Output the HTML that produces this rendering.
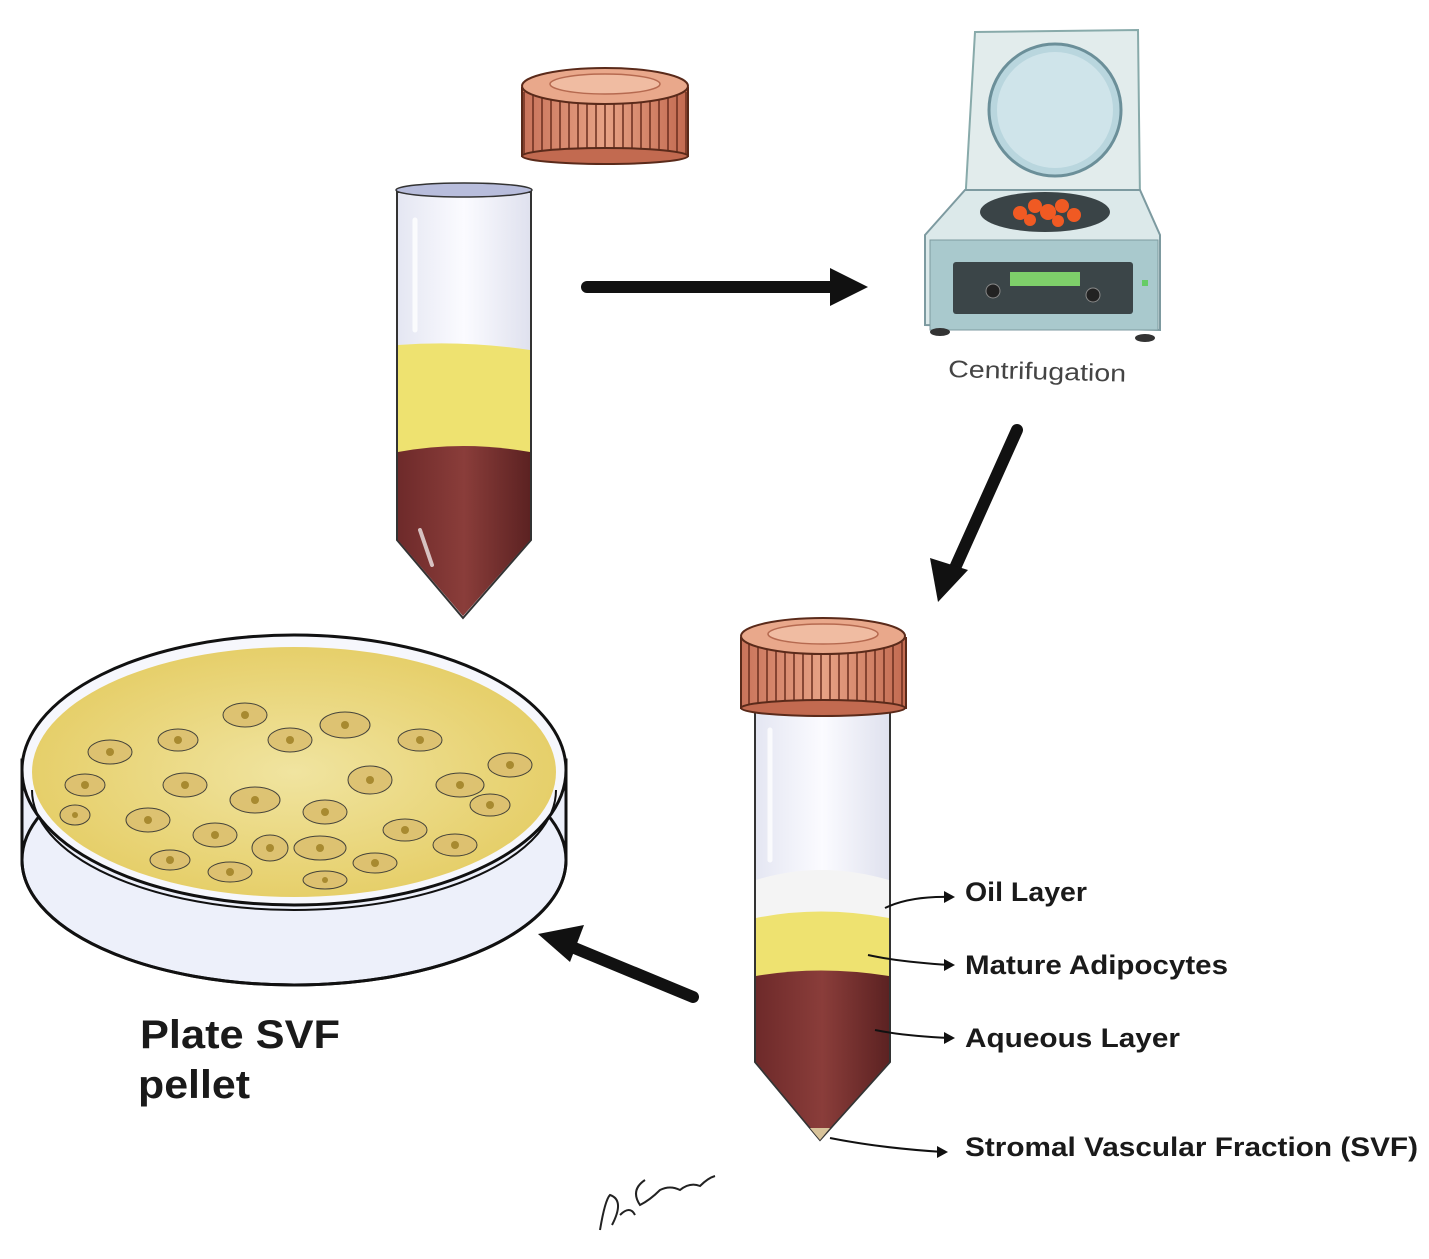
<!DOCTYPE html>
<html><head><meta charset="utf-8"><style>
html,body{margin:0;padding:0;background:#fff;}
svg{display:block;}
text{font-family:"Liberation Sans",sans-serif;}
</style></head><body>
<svg width="1429" height="1259" viewBox="0 0 1429 1259" xmlns="http://www.w3.org/2000/svg">
<defs>
<linearGradient id="cap" x1="0" x2="1"><stop offset="0" stop-color="#c9735a"/><stop offset="0.5" stop-color="#e7a285"/><stop offset="1" stop-color="#c26a50"/></linearGradient>
<linearGradient id="red" x1="0" x2="1"><stop offset="0" stop-color="#6e2a2a"/><stop offset="0.5" stop-color="#8a3d3a"/><stop offset="1" stop-color="#5c2222"/></linearGradient>
<linearGradient id="glass" x1="0" x2="1"><stop offset="0" stop-color="#e4e6f2"/><stop offset="0.5" stop-color="#fbfbff"/><stop offset="1" stop-color="#dfe1ee"/></linearGradient>
<radialGradient id="dish" cx="0.5" cy="0.5" r="0.5"><stop offset="0" stop-color="#f0e4a0"/><stop offset="1" stop-color="#e6cf6a"/></radialGradient>
<pattern id="stripes" width="9" height="10" patternUnits="userSpaceOnUse"><rect width="9" height="10" fill="none"/><line x1="2" y1="0" x2="2" y2="10" stroke="#6b2e1e" stroke-width="1.5"/></pattern>
</defs>

<g>
<rect x="522" y="88" width="166" height="68" fill="url(#cap)" stroke="#5a2a1a" stroke-width="2"/>
<rect x="522" y="92" width="166" height="62" fill="url(#stripes)"/>
<ellipse cx="605" cy="156" rx="83" ry="8" fill="#c26a50" stroke="#5a2a1a" stroke-width="2"/>
<ellipse cx="605" cy="86" rx="83" ry="18" fill="#e9a88b" stroke="#5a2a1a" stroke-width="2"/>
<ellipse cx="605" cy="84" rx="55" ry="10" fill="#f0bca2" stroke="#b66a50" stroke-width="1.5"/>
</g>

<g>
<path d="M397 192 L397 540 L463 618 L531 540 L531 192 Z" fill="url(#glass)" stroke="#333" stroke-width="2"/>
<path d="M398 345 Q463 340 530 350 L530 452 L398 452 Z" fill="#eee270"/>
<path d="M398 452 Q463 440 530 452 L530 540 L463 616 L398 540 Z" fill="url(#red)"/>
<ellipse cx="464" cy="190" rx="68" ry="7" fill="#b8bddc" stroke="#333" stroke-width="1.5"/>
<path d="M415 220 L415 330" stroke="#fff" stroke-width="5" opacity="0.8" stroke-linecap="round"/>
<path d="M420 530 L432 565" stroke="#fff" stroke-width="4" opacity="0.7" stroke-linecap="round"/>
</g>

<line x1="587" y1="287" x2="835" y2="287" stroke="#111" stroke-width="12" stroke-linecap="round"/>
<polygon points="830,268 868,287 830,306" fill="#111"/>

<g>
<path d="M975 32 L1138 30 L1140 200 L965 205 Z" fill="#e2ecec" stroke="#8aa" stroke-width="2"/>
<circle cx="1055" cy="110" r="66" fill="#b9d6de" stroke="#6b8f99" stroke-width="3"/>
<circle cx="1055" cy="110" r="58" fill="#cfe4ea"/>
<path d="M925 235 L965 190 L1140 190 L1160 235 L1160 330 L925 325 Z" fill="#dce9ea" stroke="#7d9aa0" stroke-width="2"/>
<ellipse cx="1045" cy="212" rx="65" ry="20" fill="#3a4447"/>
<g fill="#f05a23"><circle cx="1020" cy="213" r="7"/><circle cx="1035" cy="206" r="7"/><circle cx="1048" cy="212" r="8"/><circle cx="1062" cy="206" r="7"/><circle cx="1074" cy="215" r="7"/><circle cx="1030" cy="220" r="6"/><circle cx="1058" cy="221" r="6"/></g>
<rect x="930" y="240" width="228" height="90" fill="#a9c9cd" stroke="#7d9aa0"/>
<rect x="953" y="262" width="180" height="52" fill="#3b4548" rx="3"/>
<rect x="1010" y="272" width="70" height="14" fill="#7ecf6a"/>
<circle cx="993" cy="291" r="7" fill="#222" stroke="#888"/>
<circle cx="1093" cy="295" r="7" fill="#222" stroke="#888"/>
<rect x="1142" y="280" width="6" height="6" fill="#6c6"/>
<ellipse cx="940" cy="332" rx="10" ry="4" fill="#333"/>
<ellipse cx="1145" cy="338" rx="10" ry="4" fill="#333"/>
</g>
<text x="948" y="377" font-size="24" fill="#444" textLength="178" lengthAdjust="spacingAndGlyphs" transform="rotate(1.5 948 377)">Centrifugation</text>

<line x1="1017" y1="430" x2="955" y2="568" stroke="#111" stroke-width="12" stroke-linecap="round"/>
<polygon points="930,558 938,602 968,570" fill="#111"/>

<g>
<path d="M755 708 L755 1062 L820 1140 L890 1062 L890 708 Z" fill="url(#glass)" stroke="#333" stroke-width="2"/>
<path d="M756 880 Q820 860 889 880 L889 918 L756 918 Z" fill="#f4f4f4"/>
<path d="M756 918 Q820 905 889 918 L889 976 L756 976 Z" fill="#eee270"/>
<path d="M756 976 Q820 965 889 976 L889 1062 L820 1139 L756 1062 Z" fill="url(#red)"/>
<path d="M810 1128 L830 1128 L820 1140 Z" fill="#d8c39a"/>
<path d="M770 730 L770 860" stroke="#fff" stroke-width="5" opacity="0.8" stroke-linecap="round"/>
<rect x="741" y="638" width="165" height="70" fill="url(#cap)" stroke="#5a2a1a" stroke-width="2"/>
<rect x="741" y="642" width="165" height="64" fill="url(#stripes)"/>
<ellipse cx="823" cy="708" rx="82" ry="8" fill="#c26a50" stroke="#5a2a1a" stroke-width="2"/>
<ellipse cx="823" cy="636" rx="82" ry="18" fill="#e9a88b" stroke="#5a2a1a" stroke-width="2"/>
<ellipse cx="823" cy="634" rx="55" ry="10" fill="#f0bca2" stroke="#b66a50" stroke-width="1.5"/>
</g>

<g stroke="#111" stroke-width="2" fill="none">
<path d="M885 908 Q910 896 950 897"/>
<path d="M868 955 Q900 962 950 965"/>
<path d="M875 1030 Q905 1036 950 1038"/>
<path d="M830 1138 Q880 1148 943 1152"/>
</g>
<g fill="#111">
<polygon points="944,891 955,897 944,903"/>
<polygon points="944,959 955,965 944,971"/>
<polygon points="944,1032 955,1038 944,1044"/>
<polygon points="937,1146 948,1152 937,1158"/>
</g>
<g font-size="27" font-weight="bold" fill="#1a1a1a" lengthAdjust="spacingAndGlyphs">
<text x="965" y="901" textLength="122" lengthAdjust="spacingAndGlyphs">Oil Layer</text>
<text x="965" y="974" textLength="263" lengthAdjust="spacingAndGlyphs">Mature Adipocytes</text>
<text x="965" y="1047" textLength="215" lengthAdjust="spacingAndGlyphs">Aqueous  Layer</text>
<text x="965" y="1156" textLength="453" lengthAdjust="spacingAndGlyphs">Stromal Vascular Fraction  (SVF)</text>
</g>

<line x1="693" y1="997" x2="572" y2="947" stroke="#111" stroke-width="12" stroke-linecap="round"/>
<polygon points="538,934 584,925 570,962" fill="#111"/>

<g>
<path d="M22 760 L22 860 A272 125 0 0 0 566 860 L566 760 Z" fill="#edf0fa" stroke="#111" stroke-width="3"/>
<ellipse cx="294" cy="860" rx="272" ry="125" fill="none" stroke="#111" stroke-width="3"/>
<ellipse cx="294" cy="770" rx="272" ry="135" fill="#f6f7fc" stroke="#111" stroke-width="3"/>
<ellipse cx="294" cy="772" rx="262" ry="125" fill="url(#dish)"/>
<path d="M32 790 A262 120 0 0 0 556 790" fill="none" stroke="#111" stroke-width="2"/>
<g fill="#dcc070" stroke="#333" stroke-width="1" opacity="0.9">
<ellipse cx="245" cy="715" rx="22" ry="12"/><ellipse cx="178" cy="740" rx="20" ry="11"/><ellipse cx="290" cy="740" rx="22" ry="12"/>
<ellipse cx="345" cy="725" rx="25" ry="13"/><ellipse cx="420" cy="740" rx="22" ry="11"/><ellipse cx="110" cy="752" rx="22" ry="12"/>
<ellipse cx="510" cy="765" rx="22" ry="12"/><ellipse cx="85" cy="785" rx="20" ry="11"/><ellipse cx="185" cy="785" rx="22" ry="12"/>
<ellipse cx="255" cy="800" rx="25" ry="13"/><ellipse cx="370" cy="780" rx="22" ry="14"/><ellipse cx="460" cy="785" rx="24" ry="12"/>
<ellipse cx="148" cy="820" rx="22" ry="12"/><ellipse cx="215" cy="835" rx="22" ry="12"/><ellipse cx="325" cy="812" rx="22" ry="12"/>
<ellipse cx="405" cy="830" rx="22" ry="11"/><ellipse cx="490" cy="805" rx="20" ry="11"/><ellipse cx="75" cy="815" rx="15" ry="10"/>
<ellipse cx="270" cy="848" rx="18" ry="13"/><ellipse cx="320" cy="848" rx="26" ry="12"/><ellipse cx="455" cy="845" rx="22" ry="11"/>
<ellipse cx="170" cy="860" rx="20" ry="10"/><ellipse cx="230" cy="872" rx="22" ry="10"/><ellipse cx="375" cy="863" rx="22" ry="10"/>
<ellipse cx="325" cy="880" rx="22" ry="9"/>
</g>
<g fill="#a88a30">
<circle cx="245" cy="715" r="4"/><circle cx="178" cy="740" r="4"/><circle cx="290" cy="740" r="4"/><circle cx="345" cy="725" r="4"/><circle cx="420" cy="740" r="4"/><circle cx="110" cy="752" r="4"/><circle cx="510" cy="765" r="4"/><circle cx="85" cy="785" r="4"/><circle cx="185" cy="785" r="4"/><circle cx="255" cy="800" r="4"/><circle cx="370" cy="780" r="4"/><circle cx="460" cy="785" r="4"/><circle cx="148" cy="820" r="4"/><circle cx="215" cy="835" r="4"/><circle cx="325" cy="812" r="4"/><circle cx="405" cy="830" r="4"/><circle cx="490" cy="805" r="4"/><circle cx="75" cy="815" r="3"/><circle cx="270" cy="848" r="4"/><circle cx="320" cy="848" r="4"/><circle cx="455" cy="845" r="4"/><circle cx="170" cy="860" r="4"/><circle cx="230" cy="872" r="4"/><circle cx="375" cy="863" r="4"/><circle cx="325" cy="880" r="3"/>
</g>
</g>

<text x="140" y="1048" font-size="40" font-weight="bold" fill="#1a1a1a" textLength="200" lengthAdjust="spacingAndGlyphs">Plate SVF</text>
<text x="138" y="1098" font-size="40" font-weight="bold" fill="#1a1a1a" textLength="112" lengthAdjust="spacingAndGlyphs">pellet</text>

<path d="M600 1230 Q605 1200 610 1195 Q625 1200 612 1225 M620 1215 Q630 1205 635 1215 M645 1180 Q630 1190 640 1205 Q650 1200 660 1190 Q670 1185 680 1190 Q690 1182 700 1186 Q708 1178 715 1176" fill="none" stroke="#222" stroke-width="2"/>
</svg>
</body></html>
